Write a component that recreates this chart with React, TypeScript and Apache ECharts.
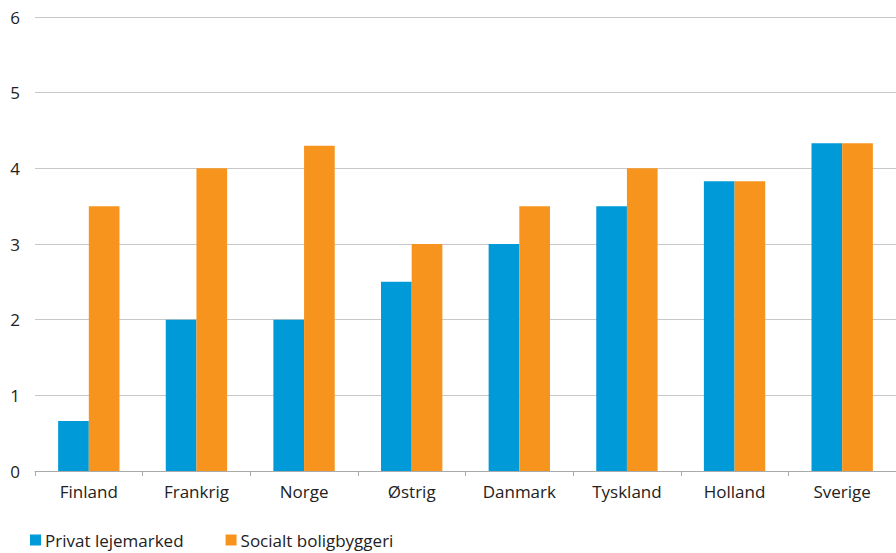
import React, { useEffect, useRef } from "react";
import * as echarts from "echarts";

const categories = ["Finland", "Frankrig", "Norge", "Østrig", "Danmark", "Tyskland", "Holland", "Sverige"];
const privat = [0.66, 2, 2, 2.5, 3, 3.5, 3.83, 4.33];
const social = [3.5, 4, 4.3, 3, 3.5, 4, 3.83, 4.33];
const seriesNames = ["Privat lejemarked", "Socialt boligbyggeri"];

const FONT = "'Open Sans', 'Noto Sans', sans-serif";

export default function App() {
  const ref = useRef<HTMLDivElement>(null);
  useEffect(() => {
    const chart = echarts.init(ref.current!, null, { renderer: "svg" });
    chart.setOption({
      animation: false,
      textStyle: { fontFamily: FONT },
      grid: { left: 35, right: 0, top: 17, bottom: 82, containLabel: false },
      legend: {
        left: 30,
        top: 530,
        padding: 0,
        itemWidth: 11,
        itemHeight: 11,
        itemGap: 42,
        icon: "rect",
        textStyle: { fontFamily: FONT, fontSize: 17, color: "#222", padding: [0, 0, 0, -1], lineHeight: 20 },
        data: seriesNames,
      },
      xAxis: {
        type: "category",
        data: categories,
        axisLine: { lineStyle: { color: "#aaa", width: 1 } },
        axisTick: { show: true, length: 5, lineStyle: { color: "#aaa" } },
        axisLabel: { fontFamily: FONT, fontSize: 17, color: "#222", margin: 12 },
      },
      yAxis: {
        type: "value",
        min: 0,
        max: 6,
        interval: 1,
        axisLine: { show: false },
        axisTick: { show: false },
        splitLine: { lineStyle: { color: "#c8c8c8", width: 1 } },
        axisLabel: { fontFamily: FONT, fontSize: 17, color: "#222", margin: 15 },
      },
      series: [
        {
          name: seriesNames[0],
          type: "bar",
          data: privat,
          barWidth: "28.5%",
          barGap: "0%",
          itemStyle: { color: "#009ad8" },
        },
        {
          name: seriesNames[1],
          type: "bar",
          data: social,
          barWidth: "28.5%",
          barGap: "0%",
          itemStyle: { color: "#f7941d" },
        },
      ],
    });
    return () => chart.dispose();
  }, []);
  return <div ref={ref} style={{ width: 896, height: 553, position: "absolute", left: 0, top: 0 }} />;
}
